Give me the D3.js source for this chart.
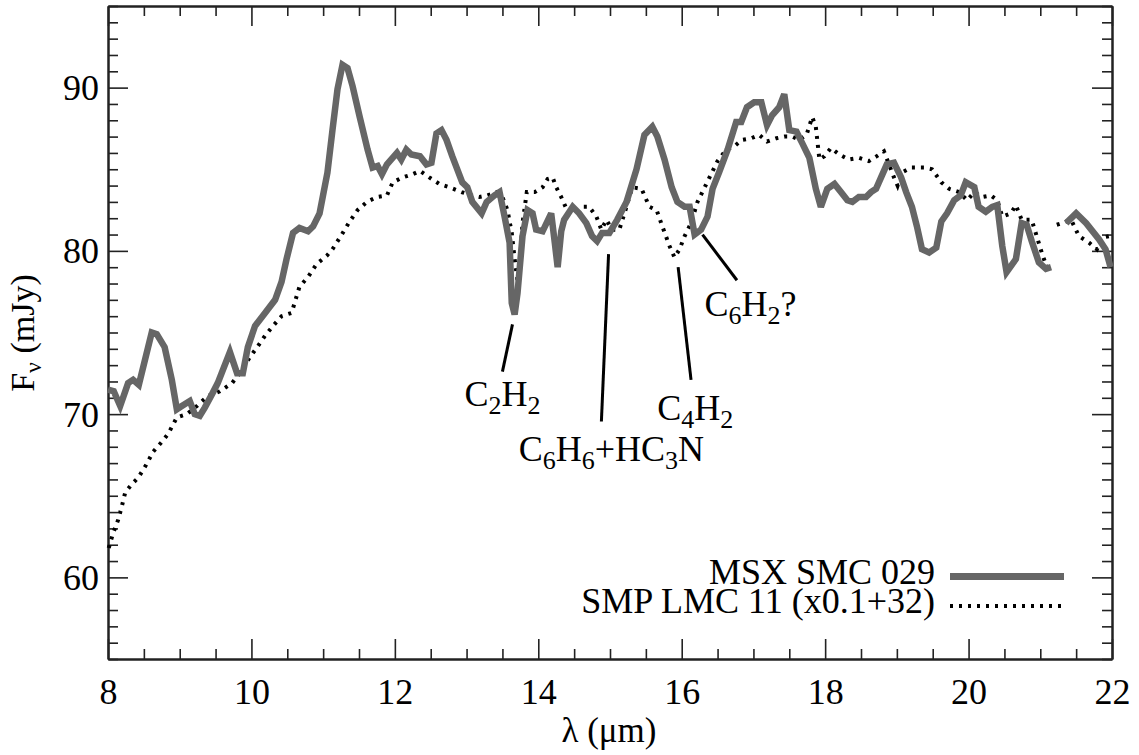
<!DOCTYPE html>
<html><head><meta charset="utf-8">
<script src="https://cdn.jsdelivr.net/npm/d3@7"></script>
<style>body{margin:0;background:#fff}svg{display:block}</style>
</head><body><svg id="c" width="1139" height="755"></svg>
<script>
// ---- data ----
const smcWave = [8.0,8.08,8.17,8.28,8.35,8.43,8.61,8.68,8.79,8.89,8.96,9.03,9.14,9.21,9.28,9.35,9.46,9.53,9.70,9.80,9.88,9.95,10.05,10.19,10.33,10.42,10.49,10.58,10.67,10.79,10.86,10.95,11.06,11.13,11.20,11.27,11.34,11.41,11.51,11.62,11.69,11.76,11.82,11.89,12.03,12.09,12.16,12.23,12.35,12.44,12.51,12.58,12.65,12.72,12.80,12.94,13.01,13.08,13.21,13.28,13.39,13.46,13.53,13.60,13.63,13.67,13.71,13.78,13.85,13.92,13.97,14.06,14.18,14.23,14.27,14.32,14.36,14.48,14.57,14.67,14.75,14.82,14.89,14.99,15.10,15.23,15.37,15.48,15.59,15.66,15.76,15.86,15.94,16.04,16.11,16.18,16.27,16.36,16.43,16.52,16.64,16.76,16.83,16.91,17.01,17.11,17.19,17.26,17.36,17.43,17.50,17.60,17.68,17.78,17.87,17.94,18.03,18.13,18.22,18.31,18.38,18.47,18.57,18.64,18.71,18.78,18.86,18.96,19.06,19.13,19.21,19.28,19.35,19.45,19.55,19.62,19.70,19.80,19.89,19.96,20.08,20.14,20.24,20.33,20.40,20.47,20.53,20.66,20.74,20.81,20.88,20.98,21.08,21.15,21.25,21.36,21.50,21.64,21.82,21.91,21.98];
const smcFlux = [71.5,71.4,70.5,71.9,72.1,71.8,75.0,74.9,74.1,72.1,70.3,70.5,70.8,70.0,69.9,70.4,71.3,71.9,73.8,72.5,72.5,74.1,75.4,76.2,77.0,78.1,79.5,81.1,81.4,81.2,81.5,82.3,84.8,87.4,89.9,91.4,91.2,90.1,88.2,86.2,85.1,85.2,84.7,85.3,86.0,85.6,86.2,85.9,85.8,85.3,85.4,87.2,87.4,86.8,85.8,84.2,83.9,83.0,82.3,83.0,83.4,83.6,82.1,80.5,76.8,76.1,77.4,80.9,82.5,82.3,81.3,81.2,82.3,80.5,79.0,81.2,81.9,82.7,82.3,81.7,80.9,80.6,81.1,81.1,81.9,83.0,85.0,87.1,87.6,87.0,85.6,83.9,83.0,82.7,82.7,81.0,81.3,82.1,83.8,84.8,86.2,87.9,87.9,88.8,89.1,89.1,87.7,88.3,88.8,89.6,87.4,87.3,86.6,85.7,83.8,82.7,83.8,84.1,83.6,83.1,83.0,83.3,83.3,83.6,83.8,84.5,85.3,85.4,84.5,83.6,82.7,81.5,80.1,79.9,80.2,81.8,82.3,83.1,83.4,84.2,83.9,82.7,82.4,82.7,82.8,80.3,78.7,79.5,81.7,81.6,80.6,79.3,78.9,79.0,null,81.7,82.3,81.7,80.7,80.1,79.0];

const lmcWave = [8.01,8.07,8.14,8.19,8.24,8.33,8.42,8.52,8.63,8.75,8.84,8.96,9.10,9.24,9.39,9.56,9.73,9.87,9.98,10.08,10.19,10.30,10.42,10.56,10.67,10.79,10.91,11.05,11.13,11.26,11.37,11.48,11.61,11.75,11.89,11.97,12.11,12.25,12.35,12.48,12.62,12.76,12.93,13.07,13.18,13.29,13.42,13.50,13.57,13.63,13.67,13.71,13.74,13.78,13.84,13.95,14.06,14.13,14.20,14.25,14.32,14.41,14.50,14.62,14.71,14.81,14.88,14.95,15.03,15.13,15.23,15.31,15.44,15.55,15.65,15.73,15.83,15.90,15.97,16.04,16.13,16.22,16.31,16.41,16.50,16.62,16.73,16.84,16.97,17.08,17.19,17.32,17.43,17.54,17.64,17.74,17.82,17.87,17.92,17.99,18.08,18.20,18.33,18.47,18.61,18.72,18.82,18.89,18.96,19.01,19.07,19.20,19.38,19.49,19.62,19.73,19.87,19.98,20.08,20.19,20.31,20.40,20.47,20.59,20.66,20.74,20.88,20.95,21.02,21.09,21.15,21.19,21.23,21.30,21.43,21.54,21.68,21.79,21.86,21.96];
const lmcFlux = [61.8,62.7,63.5,64.3,65.2,65.7,66.1,66.8,67.7,68.3,68.8,69.8,70.0,70.5,71.1,71.4,71.9,72.7,73.5,74.1,74.8,75.4,76.0,76.2,77.8,78.4,79.2,79.7,80.1,81.0,81.8,82.5,83.0,83.3,83.4,84.2,84.5,84.7,84.9,84.5,84.1,83.9,83.6,83.4,83.3,83.4,83.6,83.3,82.5,81.1,79.5,78.2,79.0,81.7,83.6,83.6,83.9,84.4,84.5,83.9,83.3,82.4,82.3,82.7,82.7,82.1,81.3,81.9,81.3,81.3,82.7,83.9,83.8,82.7,82.5,81.5,80.3,79.6,80.1,80.9,81.7,83.0,83.8,84.7,85.5,86.2,86.4,86.8,86.9,87.1,86.7,86.9,87.0,87.0,86.8,87.1,88.2,87.6,85.6,85.8,86.3,85.9,85.6,85.7,85.5,85.8,86.1,85.3,84.5,84.0,84.8,85.1,85.1,85.0,84.2,83.8,83.6,83.1,83.6,83.3,83.4,83.1,82.1,82.3,82.8,81.9,81.9,80.9,79.9,79.0,79.2,null,81.6,81.7,81.9,80.9,80.5,80.1,80.8,80.9];

const seriesNames = ["MSX SMC 029", "SMP LMC 11 (x0.1+32)"];
const xMajorTicks = [8,10,12,14,16,18,20,22];
const yMajorTicks = [60,70,80,90];

const annText  = ["C_2H_2", "C_6H_6+HC_3N", "C_4H_2", "C_6H_2?"];
const annTextX = [13.50, 15.02, 16.19, 16.96];
const annTextY = [70.47, 67.10, 69.67, 76.00];
const annX1 = [13.64, 14.98, 15.95, 16.29];
const annY1 = [75.5, 79.8, 79.0, 81.0];
const annX2 = [13.50, 14.88, 16.13, 16.77];
const annY2 = [72.6, 69.55, 72.1, 78.2];

// ---- drawing ----
const svg = d3.select("#c");
const FONT = "'Liberation Serif','Times New Roman',serif";
const L = 108, R = 1112, T = 6, B = 659;
const x = d3.scaleLinear().domain([8,22]).range([L,R]);
const y = d3.scaleLinear().domain([55,95]).range([B,T]);

const xMinor = d3.range(8, 22.001, 0.5).filter(v => Math.abs(v/2 - Math.round(v/2)) > 1e-6);
const yMinor = d3.range(55, 95.001, 1).filter(v => v % 10 !== 0);

function styleAxis(g) {
  g.select(".domain").attr("stroke", "#222").attr("stroke-width", 2);
  g.selectAll(".tick line").attr("stroke", "#222").attr("stroke-width", 1.6);
  g.selectAll("text").attr("font-family", FONT).attr("font-size", 36).attr("fill", "#000");
}

// bottom
const gb = svg.append("g").attr("transform", `translate(0,${B})`)
  .call(d3.axisBottom(x).tickValues(xMajorTicks).tickSize(-20).tickSizeOuter(0).tickFormat(d3.format("d")));
styleAxis(gb);
gb.selectAll("text").attr("y", 45).attr("dy", 0);
const gbm = svg.append("g").attr("transform", `translate(0,${B})`)
  .call(d3.axisBottom(x).tickValues(xMinor).tickSize(-10).tickSizeOuter(0).tickFormat(""));
styleAxis(gbm);
// top
[[xMajorTicks,20],[xMinor,10]].forEach(([tv,s]) => {
  const g = svg.append("g").attr("transform", `translate(0,${T})`)
    .call(d3.axisTop(x).tickValues(tv).tickSize(-s).tickSizeOuter(0).tickFormat(""));
  styleAxis(g);
});
// left
const gl = svg.append("g").attr("transform", `translate(${L},0)`)
  .call(d3.axisLeft(y).tickValues(yMajorTicks).tickSize(-20).tickSizeOuter(0).tickPadding(10).tickFormat(d3.format("d")));
styleAxis(gl);
gl.selectAll("text").attr("x", -9).attr("dy", "0.33em");
const glm = svg.append("g").attr("transform", `translate(${L},0)`)
  .call(d3.axisLeft(y).tickValues(yMinor).tickSize(-10).tickSizeOuter(0).tickFormat(""));
styleAxis(glm);
// right
[[yMajorTicks,20],[yMinor,10]].forEach(([tv,s]) => {
  const g = svg.append("g").attr("transform", `translate(${R},0)`)
    .call(d3.axisRight(y).tickValues(tv).tickSize(-s).tickSizeOuter(0).tickFormat(""));
  styleAxis(g);
});

// series
const smc = smcWave.map((w,i) => ({w, f: smcFlux[i]}));
const lmc = lmcWave.map((w,i) => ({w, f: lmcFlux[i]}));
const line = d3.line().defined(d => d.f != null).x(d => x(d.w)).y(d => y(d.f));

const DOT = {w: 4, dash: "3,6"};
svg.append("path").datum(lmc).attr("d", line)
  .attr("fill", "none").attr("stroke", "#000").attr("stroke-width", DOT.w)
  .attr("stroke-dasharray", DOT.dash);
svg.append("path").datum(smc).attr("d", line)
  .attr("fill", "none").attr("stroke", "#666").attr("stroke-width", 6.5)
  .attr("stroke-linejoin", "miter").attr("stroke-miterlimit", 3);

// text with subscripts
function richText(sel, str, big, small, shift) {
  const parts = [];
  for (let i = 0; i < str.length; i++) {
    if (str[i] === "_") { parts.push({t: str[i+1], sub: true}); i++; }
    else {
      if (parts.length && !parts[parts.length-1].sub) parts[parts.length-1].t += str[i];
      else parts.push({t: str[i], sub: false});
    }
  }
  let lastSub = false;
  parts.forEach(p => {
    const ts = sel.append("tspan").text(p.t);
    if (p.sub) { ts.attr("font-size", small).attr("dy", lastSub ? 0 : shift); lastSub = true; }
    else { ts.attr("font-size", big).attr("dy", lastSub ? -shift : 0); lastSub = false; }
  });
}

// annotations
annText.forEach((t,i) => {
  svg.append("line")
    .attr("x1", x(annX1[i])).attr("y1", y(annY1[i]))
    .attr("x2", x(annX2[i])).attr("y2", y(annY2[i]))
    .attr("stroke", "#000").attr("stroke-width", 3);
  const tx = svg.append("text").attr("x", x(annTextX[i])).attr("y", y(annTextY[i]))
    .attr("text-anchor", "middle").attr("font-family", FONT).attr("fill", "#000");
  richText(tx, t, 36, 26, 8);
});

// axis titles
svg.append("text").attr("x", 609).attr("y", 742).attr("text-anchor", "middle")
  .attr("font-family", FONT).attr("font-size", 35).text("λ (μm)");
const yt = svg.append("text").attr("transform", "translate(34,333) rotate(-90)")
  .attr("text-anchor", "middle").attr("font-family", FONT).attr("fill", "#000");
richText(yt, "F_ν (mJy)", 34, 24, 7);

// legend
const legY = [576.5, 606];
seriesNames.forEach((n,i) => {
  svg.append("text").attr("x", 935).attr("y", legY[i] + 7).attr("text-anchor", "end")
    .attr("font-family", FONT).attr("font-size", 36).text(n);
  const ln = svg.append("line").attr("x1", 950).attr("x2", 1064).attr("y1", legY[i]).attr("y2", legY[i]);
  if (i === 0) ln.attr("stroke", "#666").attr("stroke-width", 7);
  else ln.attr("stroke", "#000").attr("stroke-width", DOT.w).attr("stroke-dasharray", DOT.dash);
});
</script>
</body></html>
